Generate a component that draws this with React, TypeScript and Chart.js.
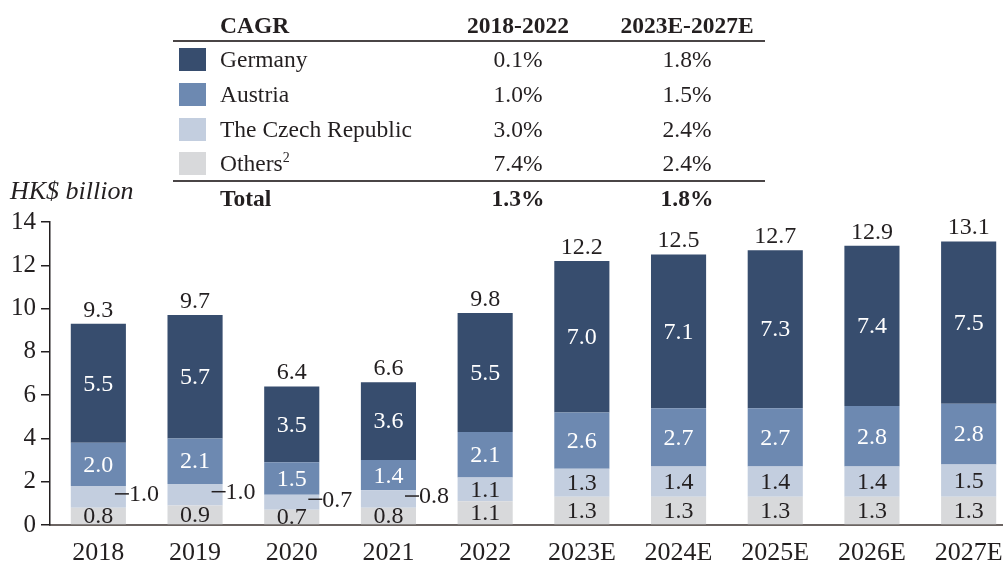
import React, { useEffect, useRef } from "react";
import { Chart, registerables } from "chart.js";

Chart.register(...registerables);

const categories = ["2018", "2019", "2020", "2021", "2022", "2023E", "2024E", "2025E", "2026E", "2027E"];
const others = [0.8, 0.9, 0.7, 0.8, 1.1, 1.3, 1.3, 1.3, 1.3, 1.3];
const czech = [1.0, 1.0, 0.7, 0.8, 1.1, 1.3, 1.4, 1.4, 1.4, 1.5];
const austria = [2.0, 2.1, 1.5, 1.4, 2.1, 2.6, 2.7, 2.7, 2.8, 2.8];
const germany = [5.5, 5.7, 3.5, 3.6, 5.5, 7.0, 7.1, 7.3, 7.4, 7.5];
const totals = [9.3, 9.7, 6.4, 6.6, 9.8, 12.2, 12.5, 12.7, 12.9, 13.1];
const yTicks = [0, 2, 4, 6, 8, 10, 12, 14];

const seriesNames = ["Germany", "Austria", "The Czech Republic", "Others"];
const cagr1822 = ["0.1%", "1.0%", "3.0%", "7.4%"];
const cagr2327 = ["1.8%", "1.5%", "2.4%", "2.4%"];
const totalCagr = ["1.3%", "1.8%"];
const colors = ["#374D6E", "#6D89B1", "#C3CEDF", "#D8D9DB"];

const FONT = "'Liberation Serif', 'Times New Roman', serif";
const DARK = "#231F20";

const labelPlugin = {
  id: "segLabels",
  afterDatasetsDraw(chart: any) {
    const ctx = chart.ctx;
    ctx.save();
    ctx.font = `24px ${FONT}`;
    chart.data.datasets.forEach((ds: any, di: number) => {
      const meta = chart.getDatasetMeta(di);
      meta.data.forEach((el: any, i: number) => {
        const v = ds.data[i];
        const cy = (el.y + el.base) / 2;
        const txt = v.toFixed(1);
        if (ds.label === "The Czech Republic" && i < 4) {
          const right = el.x + el.width / 2;
          ctx.strokeStyle = DARK;
          ctx.lineWidth = 1.5;
          ctx.beginPath();
          ctx.moveTo(right - 11, cy - 3);
          ctx.lineTo(right + 3, cy - 3);
          ctx.stroke();
          ctx.fillStyle = DARK;
          ctx.textAlign = "left";
          ctx.textBaseline = "middle";
          ctx.fillText(txt, right + 3, cy - 2);
        } else {
          ctx.fillStyle = ds.textColor;
          ctx.textAlign = "center";
          ctx.textBaseline = "middle";
          ctx.fillText(txt, el.x, cy + 1);
        }
      });
    });
    const topMeta = chart.getDatasetMeta(chart.data.datasets.length - 1);
    topMeta.data.forEach((el: any, i: number) => {
      ctx.fillStyle = DARK;
      ctx.textAlign = "center";
      ctx.textBaseline = "alphabetic";
      ctx.fillText(totals[i].toFixed(1), el.x, el.y - 7);
    });
    ctx.restore();
  },
};

export default function App() {
  const ref = useRef<HTMLCanvasElement>(null);
  useEffect(() => {
    if (!ref.current) return;
    const chart = new Chart(ref.current, {
      type: "bar",
      data: {
        labels: categories,
        datasets: [
          { label: "Others", data: others, backgroundColor: colors[3], textColor: DARK } as any,
          { label: "The Czech Republic", data: czech, backgroundColor: colors[2], textColor: DARK } as any,
          { label: "Austria", data: austria, backgroundColor: colors[1], textColor: "#FFFFFF" } as any,
          { label: "Germany", data: germany, backgroundColor: colors[0], textColor: "#FFFFFF" } as any,
        ],
      },
      options: {
        animation: false,
        responsive: false,
        maintainAspectRatio: false,
        layout: { padding: { top: 222, left: 0, right: 0, bottom: 0 } },
        plugins: { legend: { display: false }, tooltip: { enabled: false } },
        datasets: { bar: { barPercentage: 0.57, categoryPercentage: 1 } },
        scales: {
          x: {
            stacked: true,
            grid: { display: false, drawTicks: false },
            border: { display: true, color: "#6B6462", width: 2 },
            ticks: { color: DARK, font: { family: FONT, size: 26 }, padding: 13, maxRotation: 0 },
            afterFit: (s: any) => { s.height = 39; },
          },
          y: {
            stacked: true,
            min: 0,
            max: 14,
            afterBuildTicks: (s: any) => { s.ticks = yTicks.map((v) => ({ value: v })); },
            grid: { drawOnChartArea: false, drawTicks: true, tickLength: 9, color: DARK, lineWidth: 1.5 },
            border: { display: true, color: DARK, width: 1.5 },
            ticks: { color: DARK, font: { family: FONT, size: 25 }, padding: 5 },
            afterFit: (s: any) => { s.width = 50; },
          },
        },
      },
      plugins: [labelPlugin],
    });
    return () => chart.destroy();
  }, []);

  const rowY = [59, 94, 129, 163];
  const textStyle = (cy: number, extra: any = {}) => ({
    position: "absolute" as const,
    top: cy - 15,
    height: 30,
    lineHeight: "30px",
    fontFamily: FONT,
    fontSize: 23.5,
    color: DARK,
    whiteSpace: "nowrap" as const,
    ...extra,
  });

  return (
    <div style={{ position: "fixed", left: 0, top: 0, width: 1003, height: 564, overflow: "hidden", background: "#fff" }}>
      <canvas ref={ref} width={1017} height={564} style={{ position: "absolute", left: 0, top: 0, width: 1017, height: 564 }} />
      <div style={textStyle(191, { left: 10, fontStyle: "italic", fontSize: 26 })}>HK$ billion</div>
      <div style={textStyle(25, { left: 220, fontWeight: "bold" })}>CAGR</div>
      <div style={textStyle(25, { left: 418, width: 200, textAlign: "center", fontWeight: "bold" })}>2018-2022</div>
      <div style={textStyle(25, { left: 587, width: 200, textAlign: "center", fontWeight: "bold" })}>2023E-2027E</div>
      <div style={{ position: "absolute", left: 173, top: 40, width: 592, height: 2, background: "#4A4546" }} />
      {seriesNames.map((n, i) => (
        <React.Fragment key={n}>
          <div style={{ position: "absolute", left: 179, top: rowY[i] - 11, width: 27, height: 23, background: colors[i] }} />
          <div style={textStyle(rowY[i], { left: 220 })}>
            {n}
            {n === "Others" ? <sup style={{ fontSize: 14, verticalAlign: "top", lineHeight: "20px" }}>2</sup> : null}
          </div>
          <div style={textStyle(rowY[i], { left: 418, width: 200, textAlign: "center" })}>{cagr1822[i]}</div>
          <div style={textStyle(rowY[i], { left: 587, width: 200, textAlign: "center" })}>{cagr2327[i]}</div>
        </React.Fragment>
      ))}
      <div style={{ position: "absolute", left: 173, top: 180, width: 592, height: 2, background: "#4A4546" }} />
      <div style={textStyle(198, { left: 220, fontWeight: "bold" })}>Total</div>
      <div style={textStyle(198, { left: 418, width: 200, textAlign: "center", fontWeight: "bold" })}>{totalCagr[0]}</div>
      <div style={textStyle(198, { left: 587, width: 200, textAlign: "center", fontWeight: "bold" })}>{totalCagr[1]}</div>
    </div>
  );
}
